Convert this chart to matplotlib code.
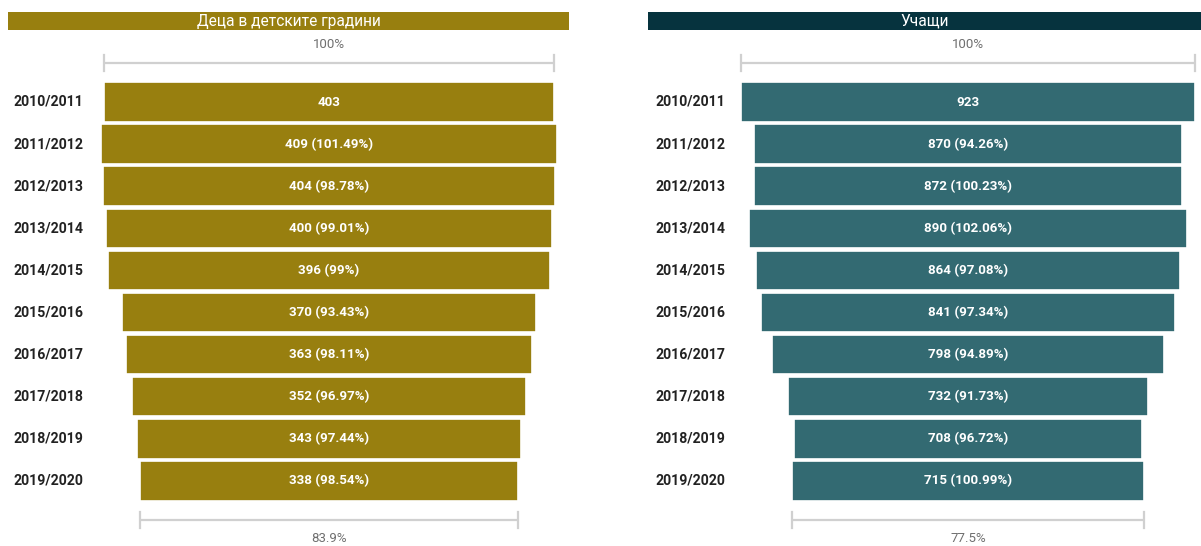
import matplotlib
matplotlib.use("Agg")
import matplotlib.pyplot as plt
import matplotlib.transforms as mtransforms
from matplotlib.patches import Rectangle
import numpy as np

plt.rcParams['font.family'] = ['Roboto', 'DejaVu Sans']

# -------------------------
# Data
# -------------------------
years = ["2010/2011", "2011/2012", "2012/2013", "2013/2014", "2014/2015",
         "2015/2016", "2016/2017", "2017/2018", "2018/2019", "2019/2020"]

kids = [403, 409, 404, 400, 396, 370, 363, 352, 343, 338]
kids_pct = [None, "101.49%", "98.78%", "99.01%", "99%", "93.43%",
            "98.11%", "96.97%", "97.44%", "98.54%"]
kids_total = "83.9%"

pupils = [923, 870, 872, 890, 864, 841, 798, 732, 708, 715]
pupils_pct = [None, "94.26%", "100.23%", "102.06%", "97.08%", "97.34%",
              "94.89%", "91.73%", "96.72%", "100.99%"]
pupils_total = "77.5%"

titles = ["Деца в детските градини", "Учащи"]

# -------------------------
# Layout (pixels)
# -------------------------
W, H = 1201, 546
DPI = 100
ROW0, ROW_STEP = 102, 42.1

fig = plt.figure(figsize=(W / DPI, H / DPI), dpi=DPI)
fig.patch.set_facecolor("white")

panels = [
    dict(vals=kids, pct=kids_pct, total=kids_total, title=titles[0],
         color="#987f0f", head="#987f0f", x0=0, x1=600.5, center=329,
         first_px=450, year_x=13, head_x=(8, 569)),
    dict(vals=pupils, pct=pupils_pct, total=pupils_total, title=titles[1],
         color="#336a72", head="#06333e", x0=600.5, x1=1201, center=968,
         first_px=454, year_x=655, head_x=(648, 1201)),
]


def py(px):
    # pixel row -> data y
    return (px - ROW0) / ROW_STEP


for p in panels:
    ax = fig.add_axes([p["x0"] / W, 0, (p["x1"] - p["x0"]) / W, 1])
    s = p["first_px"] / p["vals"][0]
    ax.set_xlim((p["x0"] - p["center"]) / s, (p["x1"] - p["center"]) / s)
    ax.set_ylim(py(H), py(0))
    ax.axis("off")

    vals = np.array(p["vals"], dtype=float)
    y = np.arange(len(vals))
    ax.barh(y, vals, left=-vals / 2, height=0.94, color=p["color"],
            edgecolor="white", linewidth=1.2)

    for i, v in enumerate(p["vals"]):
        lab = str(v) if p["pct"][i] is None else f"{v} ({p['pct'][i]})"
        ax.text(0, i, lab, ha="center", va="center", color="white",
                fontsize=9.6, fontweight="bold")

    trans = mtransforms.blended_transform_factory(fig.transFigure, ax.transData)
    for i, yr in enumerate(years):
        ax.text(p["year_x"] / W, i, yr, transform=trans, ha="left", va="center",
                color="#222222", fontsize=10.2, fontweight="bold")

    # brackets: first and last year
    for v, yb, ylab, lab in [(vals[0], py(63), py(44), "100%"),
                             (vals[-1], py(520), py(539), p["total"])]:
        ax.plot([-v / 2, v / 2], [yb, yb], color="#d0d0d0", lw=1.6,
                solid_capstyle="butt")
        for xe in (-v / 2, v / 2):
            ax.plot([xe, xe], [yb - 0.2, yb + 0.2], color="#d0d0d0", lw=1.6)
        ax.text(0, ylab, lab, ha="center", va="center", color="#6f6f6f",
                fontsize=9.5)

    # header bar
    hx0, hx1 = p["head_x"]
    fig.add_artist(Rectangle((hx0 / W, 1 - 30 / H), (hx1 - hx0) / W, 18 / H,
                             transform=fig.transFigure, facecolor=p["head"],
                             edgecolor="none"))
    fig.text((hx0 + hx1) / 2 / W, 1 - 21.5 / H, p["title"], ha="center",
             va="center", color="white", fontsize=11.2)

fig.savefig("out.png", dpi=DPI)
